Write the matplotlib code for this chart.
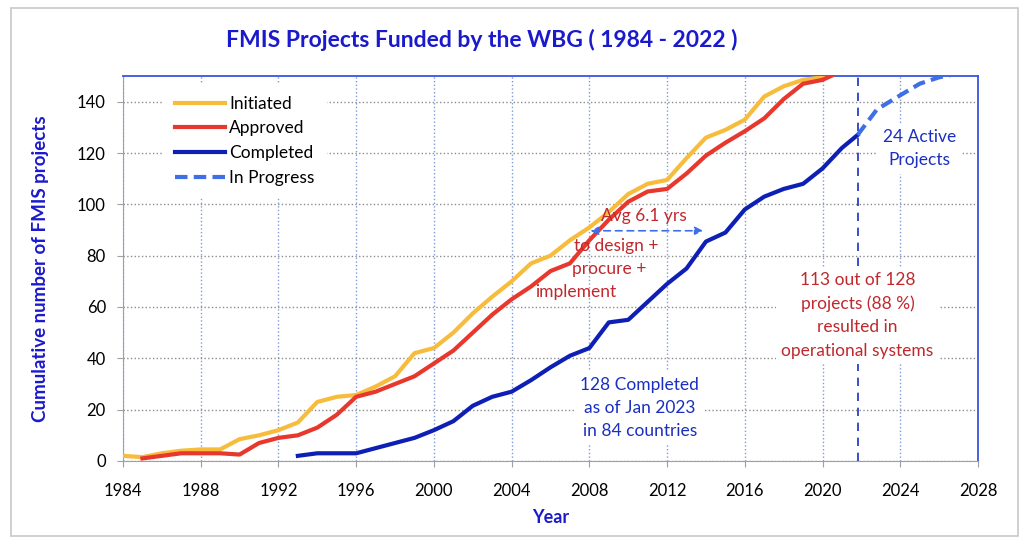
import matplotlib
matplotlib.use("Agg")
import matplotlib.pyplot as plt
from matplotlib.patches import Rectangle

# data
init_years = [1984, 1985, 1986, 1987, 1988, 1989, 1990, 1991, 1992, 1993, 1994, 1995,
              1996, 1997, 1998, 1999, 2000, 2001, 2002, 2003, 2004, 2005, 2006, 2007,
              2008, 2009, 2010, 2011, 2012, 2013, 2014, 2015, 2016, 2017, 2018, 2019,
              2020, 2021]
initiated = [2, 1.5, 3, 4, 4.5, 4.5, 8.5, 10, 12, 15, 23, 25,
             25.7, 29, 33, 42, 44, 50, 57.5, 64, 70, 77, 80, 86,
             91, 97, 104, 108, 109.5, 118, 126, 129, 133, 142, 146, 148.5,
             149.5, 153]

appr_years = [1985, 1986, 1987, 1988, 1989, 1990, 1991, 1992, 1993, 1994, 1995,
              1996, 1997, 1998, 1999, 2000, 2001, 2002, 2003, 2004, 2005, 2006, 2007,
              2008, 2009, 2010, 2011, 2012, 2013, 2014, 2015, 2016, 2017, 2018, 2019,
              2020, 2021]
approved = [1, 2, 3, 3, 3, 2.5, 7, 9, 10, 13, 18,
            25, 27, 30, 33, 38, 43, 50, 57, 63, 68, 74, 77,
            86, 94, 101, 105, 106, 112, 119, 124, 128.5, 133.5, 141, 147,
            148.5, 152]

comp_years = [1993, 1994, 1995, 1996, 1997, 1998, 1999, 2000, 2001, 2002, 2003, 2004,
              2005, 2006, 2007, 2008, 2009, 2010, 2011, 2012, 2013, 2014, 2015, 2016,
              2017, 2018, 2019, 2020, 2021, 2021.8]
completed = [2, 3, 3, 3, 5, 7, 9, 12, 15.5, 21.5, 25, 27,
             31.5, 36.5, 41, 44, 54, 55, 62, 69, 75, 85.5, 89, 98,
             103, 106, 108, 114, 122, 127]

prog_years = [2021.8, 2022.8, 2024, 2025, 2026, 2027]
in_progress = [127, 137, 142.5, 147, 149.5, 151]

cutoff_year = 2021.8
x_ticks = list(range(1984, 2029, 4))
y_ticks = list(range(0, 141, 20))

plt.rcParams['font.family'] = ['Lato', 'DejaVu Sans']

fig = plt.figure(figsize=(10.24, 5.48), dpi=100)
ax = fig.add_axes([0.1201, 0.1588, 0.8350, 0.7025])

# outer light frame
fig.patches.append(Rectangle((11 / 1024, 12 / 548), 1007 / 1024, 528 / 548,
                             transform=fig.transFigure, fill=False,
                             edgecolor="#c8c8c8", lw=1.2))

ax.plot(init_years, initiated, color="#F7BC3C", lw=3, label="Initiated", zorder=3)
ax.plot(appr_years, approved, color="#E8372C", lw=3, label="Approved", zorder=3)
ax.plot(comp_years, completed, color="#0D1FB5", lw=3, label="Completed", zorder=3)
ax.plot(prog_years, in_progress, color="#3E6FE6", lw=3, ls=(0, (3, 1.5)),
        label="In Progress", zorder=3)

ax.axvline(cutoff_year, color="#1A2FC0", lw=1.2, ls=(0, (5, 4)), zorder=2)

ax.set_xlim(1984, 2028)
ax.set_ylim(0, 150)
ax.set_xticks(x_ticks)
ax.set_yticks(y_ticks)
ax.tick_params(labelsize=12, colors="#a0a0a0", labelcolor="black", length=4.3)
ax.tick_params(axis="x", pad=11.5)
ax.tick_params(axis="y", pad=8)

ax.xaxis.grid(True, color="#7d9bd8", ls=":", lw=1)
ax.yaxis.grid(True, color="#8c8c8c", ls=":", lw=1)
ax.set_axisbelow(True)

for s in ["top", "right"]:
    ax.spines[s].set_color("#3a55e0")
    ax.spines[s].set_linewidth(1.3)
for s in ["left", "bottom"]:
    ax.spines[s].set_color("#a0a0a0")

fig.text(0.470, 0.927, "FMIS Projects Funded by the WBG ( 1984 - 2022 )",
         ha="center", va="center", fontsize=16.5, fontweight="bold", color="#1A1ACC")
ax.set_xlabel("Year", fontsize=13, fontweight="bold", color="#1A1ACC", labelpad=7.5)
ax.set_ylabel("Cumulative number of FMIS projects", fontsize=13.5, fontweight="bold",
              color="#1A1ACC", labelpad=20)

leg = ax.legend(loc="upper left", bbox_to_anchor=(0.036, 1.003), fontsize=12.5,
                handlelength=2.9, handletextpad=0.25, labelspacing=0.5,
                frameon=True, framealpha=1, edgecolor="none", borderpad=0.7)
leg.get_frame().set_facecolor("white")
leg.set_zorder(5)

red = "#C0282D"
blue = "#1A2FC0"

ax.annotate("", xy=(2014.0, 89.7), xytext=(2007.9, 89.7),
            arrowprops=dict(arrowstyle="<|-|>", color="#3E6FE6", lw=1.2,
                            ls=(0, (4, 3)), mutation_scale=12), zorder=4)
ax.text(2010.8, 95.3, "Avg 6.1 yrs", color=red, fontsize=12.5, ha="center", va="center", zorder=4)
ax.text(2009.4, 83.8, "to design +", color=red, fontsize=12.5, ha="center", va="center", zorder=4)
ax.text(2009.0, 74.8, "procure +", color=red, fontsize=12.5, ha="center", va="center", zorder=4)
ax.text(2007.3, 65.9, "implement", color=red, fontsize=12.5, ha="center", va="center", zorder=4)

ax.text(2010.6, 20.7, "128 Completed\nas of Jan 2023\nin 84 countries", color=blue,
        fontsize=12.5, ha="center", va="center", linespacing=1.55, zorder=4,
        bbox=dict(facecolor="white", edgecolor="none", pad=4))
ax.text(2021.8, 56.7, "113 out of 128\nprojects (88 %)\nresulted in\noperational systems",
        color=red, fontsize=12.5, ha="center", va="center", linespacing=1.55, zorder=4,
        bbox=dict(facecolor="white", edgecolor="none", pad=4))
ax.text(2025.0, 121.7, "24 Active\nProjects", color=blue, fontsize=12.5,
        ha="center", va="center", linespacing=1.55, zorder=4,
        bbox=dict(facecolor="white", edgecolor="none", pad=4))

fig.savefig("out.png", dpi=100)
